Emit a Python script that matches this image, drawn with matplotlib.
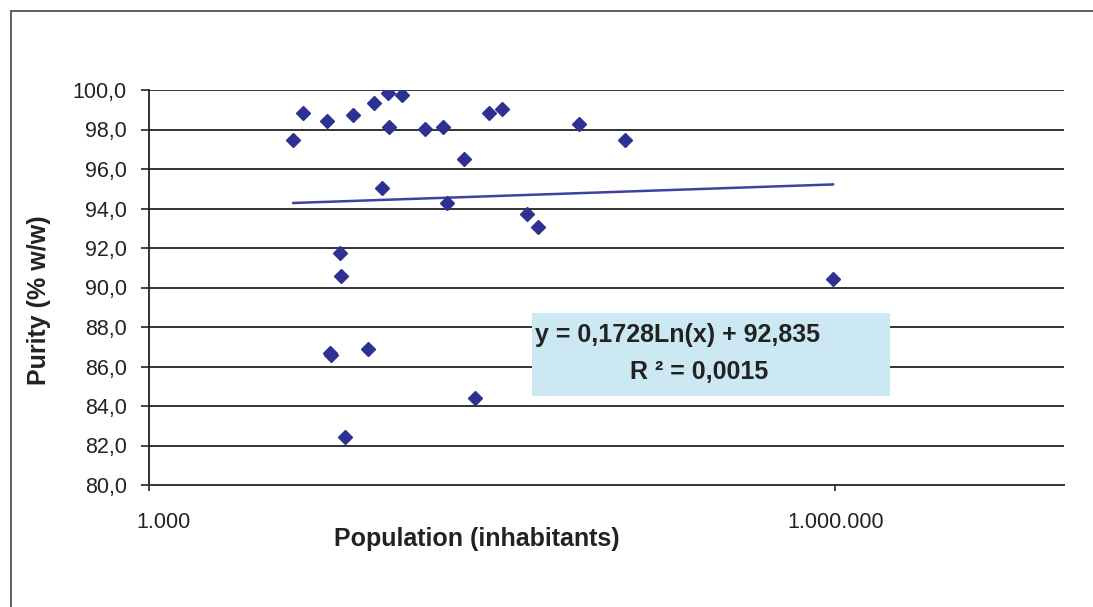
import numpy as np
import matplotlib
matplotlib.use("Agg")
import matplotlib.pyplot as plt
from matplotlib.patches import Rectangle
from matplotlib.lines import Line2D
from matplotlib.ticker import FixedLocator, FixedFormatter, NullLocator
import matplotlib.transforms as mtransforms

# ---- data ----
population = [4276, 4699, 5998, 7813, 9660, 11090, 12770, 11170, 16110, 19240,
              23910, 10470, 20050, 6839, 30750, 34850, 75640, 119900, 44890, 50130,
              6890, 6170, 6240, 9080, 26490, 7180, 977000]
purity = [97.45, 98.82, 98.44, 98.73, 99.36, 99.86, 99.76, 98.11, 98.02, 98.11,
          96.53, 95.03, 94.30, 91.73, 98.85, 99.04, 98.26, 97.45, 93.71, 93.05,
          90.60, 86.70, 86.60, 86.89, 84.38, 82.45, 90.42]
trend_slope = 0.1728
trend_intercept = 92.835
eq_text = "y = 0,1728Ln(x) + 92,835"
r2_text = "R \u00b2 = 0,0015"
x_ticks = [1e3, 1e6]
x_tick_labels = ["1.000", "1.000.000"]
y_ticks = list(range(80, 101, 2))
y_tick_labels = [f"{v},0" for v in y_ticks]
x_label = "Population (inhabitants)"
y_label = "Purity (% w/w)"

plt.rcParams['font.family'] = ['Liberation Sans', 'DejaVu Sans']

W, H = 1093, 607
fig = plt.figure(figsize=(W / 100, H / 100), dpi=100)
fig.patch.set_facecolor("white")

# outer chart border (only top and left edges visible in the crop)
bx, by = 10.5 / W, 1 - 10.5 / H
fig.add_artist(Line2D([bx, 1.0], [by, by], transform=fig.transFigure,
                      color="#555555", lw=1.3))
fig.add_artist(Line2D([bx, bx], [0.0, by], transform=fig.transFigure,
                      color="#555555", lw=1.3))

L, R, T, B = 149, 1064, 90, 485
ax = fig.add_axes([L / W, 1 - B / H, (R - L) / W, (B - T) / H])
ax.set_xscale("log")
ax.set_xlim(1e3, 1e7)
ax.set_ylim(80, 100)

# grid lines
for v in y_ticks[1:]:
    ax.axhline(v, color="#333333", lw=1.4, zorder=1)

for s in ["top", "right"]:
    ax.spines[s].set_visible(False)
ax.spines["left"].set_color("#222222")
ax.spines["bottom"].set_color("#333333")
ax.spines["left"].set_linewidth(1.3)
ax.spines["bottom"].set_linewidth(1.4)

ax.xaxis.set_major_locator(FixedLocator(x_ticks))
ax.xaxis.set_major_formatter(FixedFormatter(x_tick_labels))
ax.xaxis.set_minor_locator(NullLocator())
ax.set_yticks(y_ticks)
ax.set_yticklabels(y_tick_labels)

ax.tick_params(axis="y", direction="out", length=5.5, width=1.2, color="#222222",
               pad=10.5, labelsize=15.5, labelcolor="#222222")
ax.tick_params(axis="x", direction="out", length=4.5, width=1.2, color="#222222",
               pad=15, labelsize=15.5, labelcolor="#222222")

# shift first x tick label to the right like the reference
fig.canvas.draw()
lbl0 = ax.xaxis.get_majorticklabels()[0]
lbl0.set_transform(lbl0.get_transform() +
                   mtransforms.ScaledTranslation(15 / 100, 0, fig.dpi_scale_trans))

# trend line
xs = np.logspace(np.log10(min(population)), np.log10(max(population)), 200)
ax.plot(xs, trend_slope * np.log(xs) + trend_intercept, color="#3B42A0",
        lw=1.8, zorder=3)

# points
ax.plot(population, purity, linestyle="none", marker="D", markersize=6.8,
        color="#2E3192", zorder=4)

# equation box
bx0, bx1, by0, by1 = 531.7, 890, 313.3, 395.7
ax.add_patch(Rectangle(((bx0 - L) / (R - L), (B - by1) / (B - T)),
                       (bx1 - bx0) / (R - L), (by1 - by0) / (B - T),
                       transform=ax.transAxes, facecolor="#CCE8F3",
                       edgecolor="none", zorder=5))
ax.text((677.5 - L) / (R - L), (B - 335) / (B - T), eq_text, transform=ax.transAxes,
        ha="center", va="center", fontsize=18, fontweight="bold", color="#222222",
        zorder=6)
ax.text((699 - L) / (R - L), (B - 372) / (B - T), r2_text, transform=ax.transAxes,
        ha="center", va="center", fontsize=18, fontweight="bold", color="#222222",
        zorder=6)

ax.set_xlabel(x_label, fontsize=18, fontweight="bold", color="#222222")
ax.xaxis.set_label_coords((476.5 - L) / (R - L), (B - 539) / (B - T))
ax.xaxis.label.set_va("center")
ax.set_ylabel(y_label, fontsize=18, fontweight="bold", color="#222222")
ax.yaxis.set_label_coords((39 - L) / (R - L), (B - 300) / (B - T))
ax.yaxis.label.set_va("center")

fig.savefig("out.png", dpi=100, facecolor="white")
